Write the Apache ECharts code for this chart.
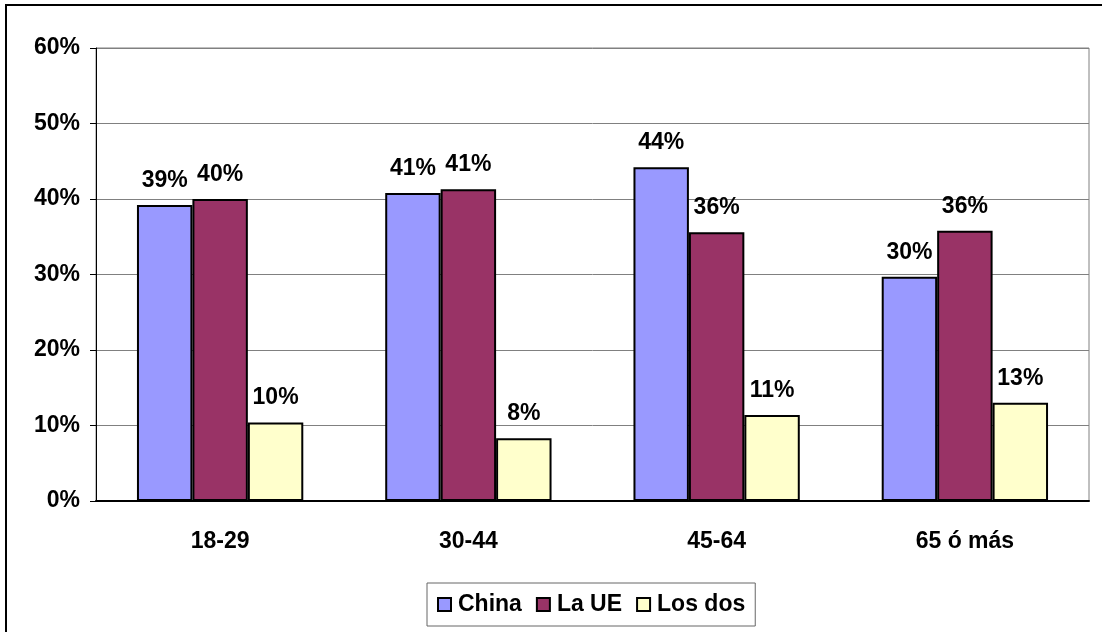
<!DOCTYPE html>
<html>
<head>
<meta charset="utf-8">
<script src="https://cdn.jsdelivr.net/npm/echarts@6/dist/echarts.min.js"></script>
<style>
  html, body { margin: 0; padding: 0; background: #fff; }
  #chart { width: 1102px; height: 632px; }
</style>
</head>
<body>
<div id="chart"></div>
<script>
// age groups and shares (%)
var categories = ['18-29', '30-44', '45-64', '65 ó más'];
var china   = [39.2, 40.8, 44.2, 29.7];
var laUE    = [40.0, 41.3, 35.6, 35.8];
var losDos  = [10.4, 8.3, 11.4, 13.0];
var yTicks  = [0, 10, 20, 30, 40, 50, 60];

var FONT = '"Liberation Sans", Arial, sans-serif';

function barSeries(name, data, color) {
  return {
    name: name,
    type: 'bar',
    data: data,
    barGap: '0%',
    barCategoryGap: '33%',
    itemStyle: { color: color, borderColor: '#000', borderWidth: 2 },
    label: {
      show: true,
      position: 'top',
      distance: 13,
      fontFamily: FONT,
      fontWeight: 'bold',
      fontSize: 23,
      color: '#000',
      formatter: function (p) { return Math.round(p.value) + '%'; }
    }
  };
}

var chart = echarts.init(document.getElementById('chart'));
chart.setOption({
  animation: false,
  backgroundColor: '#fff',
  graphic: [{
    type: 'rect',
    shape: { x: 6, y: 5, width: 1120, height: 650 },
    style: { fill: 'none', stroke: '#000', lineWidth: 2 },
    silent: true
  }],
  grid: {
    left: 96, right: 13, top: 48, bottom: 131,
    show: true, borderColor: '#808080', borderWidth: 1
  },
  legend: {
    left: 427, top: 583,
    padding: [10, 10, 10, 10],
    borderColor: '#666', borderWidth: 1,
    itemWidth: 13, itemHeight: 13, itemGap: 14,
    icon: 'rect',
    textStyle: { fontFamily: FONT, fontWeight: 'bold', fontSize: 23, color: '#000', padding: [0, 0, 0, 2] },
    data: ['China', 'La UE', 'Los dos']
  },
  xAxis: {
    type: 'category',
    data: categories,
    axisLine: { lineStyle: { color: '#000', width: 2 } },
    axisTick: { length: 8, lineStyle: { color: '#000' } },
    axisLabel: { margin: 29, fontFamily: FONT, fontWeight: 'bold', fontSize: 23, color: '#000' }
  },
  yAxis: {
    type: 'value',
    min: yTicks[0], max: yTicks[yTicks.length - 1], interval: 10,
    axisLine: { show: true, lineStyle: { color: '#000', width: 1 } },
    axisTick: { show: true, length: 6, lineStyle: { color: '#000' } },
    splitLine: { lineStyle: { color: '#808080', width: 1 } },
    axisLabel: {
      margin: 16, fontFamily: FONT, fontWeight: 'bold', fontSize: 23, color: '#000',
      formatter: '{value}%'
    }
  },
  series: [
    barSeries('China', china, '#9999FF'),
    barSeries('La UE', laUE, '#993366'),
    barSeries('Los dos', losDos, '#FFFFCC')
  ]
});
</script>
</body>
</html>
